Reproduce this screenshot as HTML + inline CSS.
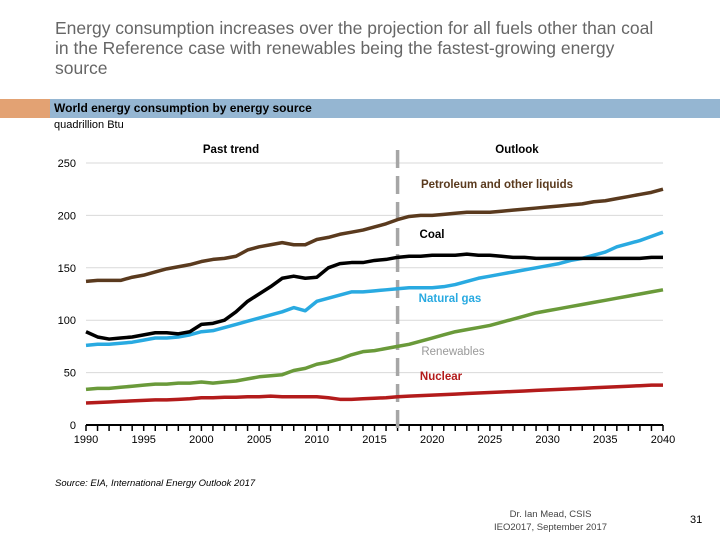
<!DOCTYPE html>
<html><head><meta charset="utf-8"><style>
body{margin:0;width:720px;height:540px;background:#fff;font-family:"Liberation Sans",sans-serif;position:relative;overflow:hidden}
.t{position:absolute;white-space:nowrap}
</style></head><body>
<div class="t" style="left:55px;top:18px;font-size:17.5px;line-height:20px;color:#666">Energy consumption increases over the projection for all fuels other than coal<br>in the Reference case with renewables being the fastest-growing energy<br>source</div>
<div style="position:absolute;left:0;top:99px;width:50px;height:19px;background:#e3a273"></div>
<div style="position:absolute;left:50px;top:99px;width:670px;height:19px;background:#95b6d2"></div>
<div class="t" style="left:54px;top:101px;font-size:12px;font-weight:bold;color:#000">World energy consumption by energy source</div>
<div class="t" style="left:54px;top:119px;font-size:11px;color:#000">quadrillion Btu</div>
<svg id="c" width="720" height="540" style="position:absolute;left:0;top:0"></svg>
<div class="t" style="left:55px;top:478px;font-size:9.5px;font-style:italic;color:#000">Source: EIA, International Energy Outlook 2017</div>
<div class="t" style="left:494px;top:508px;font-size:9.5px;color:#444;text-align:center;line-height:13px">Dr. Ian Mead, CSIS<br>IEO2017, September 2017</div>
<div class="t" style="left:690px;top:514px;font-size:11px;color:#000">31</div>
<script>
const years=[];for(let y=1990;y<=2040;y++)years.push(y);
const petroleum=[137,138,138,138,141,143,146,149,151,153,156,158,159,161,167,170,172,174,172,172,177,179,182,184,186,189,192,196,199,200,200,201,202,203,203,203,204,205,206,207,208,209,210,211,213,214,216,218,220,222,225];
const coal=[89,84,82,83,84,86,88,88,87,89,96,97,100,108,118,125,132,140,142,140,141,150,154,155,155,157,158,160,161,161,162,162,162,163,162,162,161,160,160,159,159,159,159,159,159,159,159,159,159,160,160];
const naturalGas=[76,77,77,78,79,81,83,83,84,86,89,90,93,96,99,102,105,108,112,109,118,121,124,127,127,128,129,130,131,131,131,132,134,137,140,142,144,146,148,150,152,154,157,159,162,165,170,173,176,180,184];
const renewables=[34,35,35,36,37,38,39,39,40,40,41,40,41,42,44,46,47,48,52,54,58,60,63,67,70,71,73,75,77,80,83,86,89,91,93,95,98,101,104,107,109,111,113,115,117,119,121,123,125,127,129];
const nuclear=[21,21.5,22,22.5,23,23.5,24,24,24.5,25,26,26,26.5,26.5,27,27,27.5,27,27,27,27,26,24.5,24.5,25,25.5,26,27,27.5,28,28.5,29,29.5,30,30.5,31,31.5,32,32.5,33,33.5,34,34.5,35,35.5,36,36.5,37,37.5,38,38];
const yTicks=[0,50,100,150,200,250];
const xTicks=[1990,1995,2000,2005,2010,2015,2020,2025,2030,2035,2040];
const projStart=2017;
const X=y=>86+(y-1990)*(577/50), Y=v=>425-v*1.048;
const s=document.getElementById('c'),NS='http://www.w3.org/2000/svg';
function mk(t,a,txt){const e=document.createElementNS(NS,t);for(const k in a)e.setAttribute(k,a[k]);if(txt!==undefined)e.textContent=txt;s.appendChild(e);return e;}
yTicks.forEach(v=>{
 if(v>0){const g=mk('line',{x1:86,x2:663,y1:Y(v),y2:Y(v),stroke:'#d9d9d9','stroke-width':1});
 
 }
 const t=mk('text',{x:76,y:Y(v)+4,'text-anchor':'end','font-size':11,fill:'#000'},v);
 
 
});
const ax=mk('line',{x1:86,x2:663,y1:425,y2:425,stroke:'#000','stroke-width':2});


years.forEach(y=>{const tk=mk('line',{x1:X(y),x2:X(y),y1:425,y2:431,stroke:'#000','stroke-width':1.5});
 
 });
xTicks.forEach(y=>{const t=mk('text',{x:X(y),y:443,'text-anchor':'middle','font-size':11,fill:'#000'},y);
 
 });
const dv=mk('line',{x1:X(projStart),x2:X(projStart),y1:150,y2:435,stroke:'#a6a6a6','stroke-width':3.5,'stroke-dasharray':'18 8'});


const series=[['nuclear',nuclear,'#b31b1b'],['renewables',renewables,'#6a9a3a'],['natural-gas',naturalGas,'#29aae1'],['coal',coal,'#000000'],['petroleum',petroleum,'#5a3a1e']];
series.forEach(([n,d,c])=>{const p=mk('polyline',{points:d.map((v,i)=>X(years[i])+','+Y(v)).join(' '),fill:'none',stroke:c,'stroke-width':3.5,'stroke-linejoin':'round'});
 
 });
const labels=[['Past trend',231,153,'#000'],['Outlook',517,153,'#000'],['Petroleum and other liquids',497,188,'#5a3a1e'],['Coal',432,238,'#000'],['Natural gas',450,302,'#29aae1'],['Renewables',453,355,'#999'],['Nuclear',441,380,'#b31b1b']];
labels.forEach(([t,x,y,c])=>{const e=mk('text',{x:x,y:y,'text-anchor':'middle','font-size':11.5,'font-weight':(t==='Renewables'?'normal':'bold'),fill:c},t);
 
 });
</script>
</body></html>
